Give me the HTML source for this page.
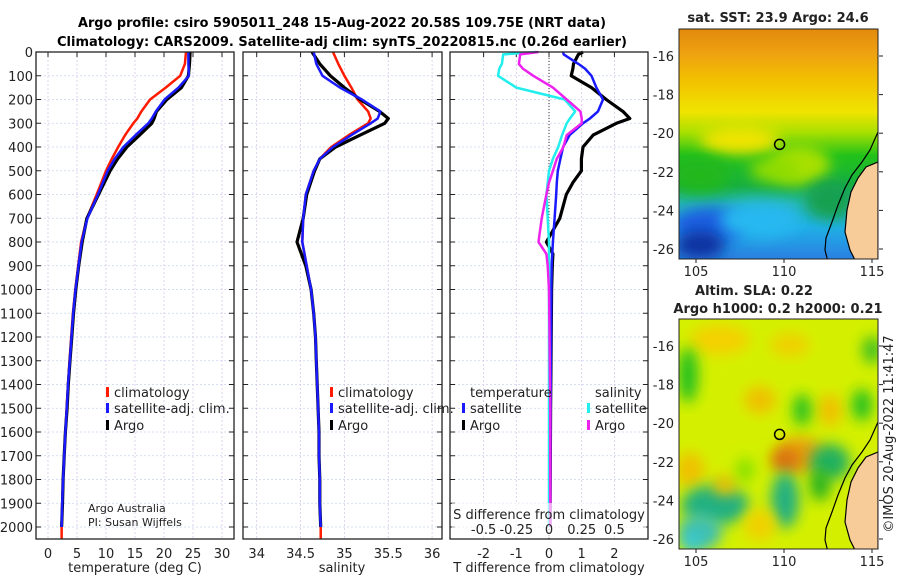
<!DOCTYPE html>
<html><head><meta charset="utf-8">
<style>
html,body{margin:0;padding:0;background:#fff;}
svg{display:block;font-family:"DejaVu Sans","Liberation Sans",sans-serif;}
</style></head>
<body>
<svg id="fig" width="900" height="580" viewBox="0 0 900 580" xmlns="http://www.w3.org/2000/svg">
<defs>
  <clipPath id="clipTop"><rect x="679" y="29" width="199" height="230"/></clipPath>
  <clipPath id="clipBot"><rect x="679" y="319" width="199" height="230"/></clipPath>
  <filter id="blur6" x="-100%" y="-100%" width="300%" height="300%"><feGaussianBlur stdDeviation="7"/></filter>
  <linearGradient id="sstGrad" x1="0" y1="0" x2="0" y2="1">
    <stop offset="0" stop-color="#e38a0c"/>
    <stop offset="0.1" stop-color="#eea012"/>
    <stop offset="0.22" stop-color="#f2c000"/>
    <stop offset="0.36" stop-color="#f0e400"/>
    <stop offset="0.45" stop-color="#a8e000"/>
    <stop offset="0.55" stop-color="#22c21a"/>
    <stop offset="0.68" stop-color="#18b040"/>
    <stop offset="0.76" stop-color="#26b8b0"/>
    <stop offset="0.86" stop-color="#20b0e8"/>
    <stop offset="1" stop-color="#2a80e0"/>
  </linearGradient>
</defs>
<g id="titles">
  <text x="342" y="27" text-anchor="middle" font-size="13" font-weight="bold" textLength="528" lengthAdjust="spacingAndGlyphs">Argo profile: csiro 5905011_248 15-Aug-2022 20.58S 109.75E (NRT data)</text>
  <text x="342" y="46" text-anchor="middle" font-size="13" font-weight="bold" textLength="570" lengthAdjust="spacingAndGlyphs">Climatology: CARS2009. Satellite-adj clim: synTS_20220815.nc (0.26d earlier)</text>
</g>
<g id="plots"></g>
<g id="maps"></g>
<text transform="translate(893,434) rotate(-90)" text-anchor="middle" font-size="13" fill="#222">©IMOS 20-Aug-2022 11:41:47</text>
</svg>
<script>
// ---------- DATA ----------
const depths = [0,50,100,150,200,250,280,300,350,400,450,500,600,700,800,900,1000,1100,1200,1300,1400,1500,1600,1700,1800,1900,2000];
const tempArgo = [24.5,24.4,24.2,23.0,20.5,18.7,18.3,17.9,15.8,13.6,12.0,10.7,8.7,6.7,5.9,5.3,4.8,4.4,4.1,3.8,3.5,3.3,3.0,2.8,2.6,2.5,2.35];
const tempClim = [23.8,23.6,22.8,20.3,17.6,16.1,15.4,14.7,13.3,12.1,11.0,10.0,8.4,6.7,5.7,5.2,4.7,4.3,4.0,3.7,3.45,3.2,3.0,2.8,2.6,2.45,2.35];
const tempSat  = [24.2,24.2,24.3,22.5,20.1,18.6,17.9,17.3,15.1,13.0,11.5,10.3,8.6,6.8,5.8,5.25,4.75,4.35,4.05,3.75,3.45,3.25,3.0,2.8,2.6,2.45,2.35];
const salArgo = [34.63,34.72,34.84,35.0,35.18,35.4,35.5,35.46,35.18,34.9,34.72,34.66,34.57,34.53,34.46,34.56,34.62,34.65,34.67,34.68,34.69,34.7,34.71,34.71,34.72,34.72,34.73];
const salClim = [34.87,34.93,35.0,35.08,35.15,35.27,35.3,35.27,35.05,34.85,34.72,34.65,34.56,34.53,34.52,34.57,34.62,34.65,34.67,34.68,34.69,34.7,34.71,34.71,34.72,34.72,34.73];
const salSat  = [34.65,34.68,34.75,34.95,35.2,35.41,35.38,35.3,35.08,34.87,34.72,34.65,34.56,34.53,34.52,34.57,34.62,34.65,34.67,34.68,34.69,34.7,34.71,34.71,34.72,34.72,34.73];
const diffDepths = [0,10,50,70,100,150,200,250,280,300,350,400,450,500,550,600,700,800,850,900,1000,1500,2000];
const dTArgo = [1.04,0.9,0.75,0.73,0.68,1.3,1.75,2.26,2.47,2.06,1.35,1.04,0.99,0.99,0.73,0.53,0.33,-0.08,0.12,0.1,0.08,0.05,0.03];
const dTSat  = [0.43,0.45,0.9,1.1,1.3,1.45,1.65,1.5,1.25,1.04,0.63,0.43,0.35,0.27,0.24,0.22,0.17,0.12,0.1,0.08,0.07,0.05,0.04];
const dSSat  = [-0.094,-0.35,-0.36,-0.38,-0.39,-0.25,0.12,0.2,0.16,0.135,0.1,0.07,0.03,0,-0.01,-0.02,-0.01,0,0,0,0,0,0];
const dSArgo = [-0.08,-0.22,-0.23,-0.2,-0.12,0.03,0.135,0.24,0.25,0.25,0.135,0.11,0.06,0.03,0.0,-0.02,-0.056,-0.08,-0.02,-0.01,0,0.01,0.01];
const depthTicks = [0,100,200,300,400,500,600,700,800,900,1000,1100,1200,1300,1400,1500,1600,1700,1800,1900,2000];
const tempTicks = [0,5,10,15,20,25,30];
const salTicks = [34,34.5,35,35.5,36];
const dTTicks = [-2,-1,0,1,2];
const dSTicks = [-0.5,-0.25,0,0.25,0.5];
const dSTickLabels = ["-0.5","-0.25","0","0.25","0.5"];
const argoLon = 109.75, argoLat = -20.58;
const lonTicks = [105,110,115];
const latTicks = [-16,-18,-20,-22,-24,-26];

// ---------- helpers ----------
const NS = "http://www.w3.org/2000/svg";
function mk(tag, attrs, parent){ const e=document.createElementNS(NS,tag); for(const k in attrs) e.setAttribute(k,attrs[k]); if(parent) parent.appendChild(e); return e; }
const yTop=52, yBot=539;
const yD = d => yTop + d*0.2375;
const xT = t => 48 + t*5.8;
const xS = s => 256.7 + (s-34)*87.7;
const xDT = d => 549 + d*32.7;
const xDS = s => 549 + s*130.8;
const plots = document.getElementById('plots');

function panel(x0,x1,name){
  const g = mk('g',{},plots);
  
  
  return g;
}
function frame(g,x0,x1){
  const f = mk('rect',{x:x0,y:yTop,width:x1-x0,height:yBot-yTop,fill:'none',stroke:'#222','stroke-width':1.3},g);
  
  
}
function hgrid(g,x0,x1){
  depthTicks.forEach(d=>{
    const y=yD(d);
    const l = mk('line',{x1:x0,x2:x1,y1:y,y2:y,stroke:'#c8d4f0','stroke-width':0.8,'stroke-dasharray':'2,2'},g);
    
    
    mk('line',{x1:x0,x2:x0+5,y1:y,y2:y,stroke:'#222','stroke-width':1},g);
    mk('line',{x1:x1-5,x2:x1,y1:y,y2:y,stroke:'#222','stroke-width':1},g);
  });
}
function vgrid(g,vals,fx,labels,ylab){
  vals.forEach((v,i)=>{
    const x=fx(v);
    const l = mk('line',{x1:x,x2:x,y1:yTop,y2:yBot,stroke:'#d8c8e8','stroke-width':0.8,'stroke-dasharray':'2,2'},g);
    
    
    mk('line',{x1:x,x2:x,y1:yTop,y2:yTop+5,stroke:'#222','stroke-width':1},g);
    const t = mk('text',{x:x,y:ylab,'text-anchor':'middle','font-size':13,fill:'#222'},g);
    t.textContent = labels ? labels[i] : String(v);
    
    
  });
}
function line(g,ds,vals,fx,color,w,name){
  const pts = ds.map((d,i)=>fx(vals[i]).toFixed(1)+','+yD(d).toFixed(1)).join(' ');
  const p = mk('polyline',{points:pts,fill:'none',stroke:color,'stroke-width':w,'stroke-linejoin':'round'},g);
  
  
}
function txt(g,x,y,s,name,opts){
  const t = mk('text',Object.assign({x:x,y:y,'font-size':13,fill:'#222'},opts||{}),g);
  t.textContent = s;
  
  
  return t;
}
function legendEntry(g,x,y,color,label){
  const m = mk('rect',{x:x,y:y-10,width:3,height:10,fill:color},g);
  
  
  txt(g,x+8,y,label,'legend-entry');
}

// ---------- Panel 1: temperature ----------
const g1 = panel(36,234,'temperature-panel');
hgrid(g1,36,234);
vgrid(g1,tempTicks,xT,null,558);
depthTicks.forEach(d=>{ txt(g1,33,yD(d)+5,String(d),'y-tick-label',{'text-anchor':'end'}); });
line(g1,depths,tempClim,xT,'#ff1a00',2.5,'temp-climatology-line');
mk('line',{x1:xT(2.35),x2:xT(2.35),y1:yD(2000),y2:yBot,stroke:'#ff1a00','stroke-width':2.5},g1);
line(g1,depths,tempArgo,xT,'#000',3.2,'temp-argo-line');
line(g1,depths,tempSat,xT,'#1a1aff',2.5,'temp-satellite-line');
frame(g1,36,234);
legendEntry(g1,106,397,'#ff1a00','climatology');
legendEntry(g1,106,413,'#1a1aff','satellite-adj. clim.');
legendEntry(g1,106,430,'#000','Argo');
txt(g1,88,512,'Argo Australia','credit-text',{'font-size':11});
txt(g1,88,526,'PI: Susan Wijffels','credit-text',{'font-size':11});
txt(g1,135,572,'temperature (deg C)','x-axis-title',{'text-anchor':'middle'});

// ---------- Panel 2: salinity ----------
const g2 = panel(243,442,'salinity-panel');
hgrid(g2,243,442);
vgrid(g2,salTicks,xS,null,558);
line(g2,depths,salClim,xS,'#ff1a00',2.5,'sal-climatology-line');
mk('line',{x1:xS(34.73),x2:xS(34.73),y1:yD(2000),y2:yBot,stroke:'#ff1a00','stroke-width':2.5},g2);
line(g2,depths,salArgo,xS,'#000',3.2,'sal-argo-line');
line(g2,depths,salSat,xS,'#1a1aff',2.5,'sal-satellite-line');
frame(g2,243,442);
legendEntry(g2,330,397,'#ff1a00','climatology');
legendEntry(g2,330,413,'#1a1aff','satellite-adj. clim.');
legendEntry(g2,330,430,'#000','Argo');
txt(g2,342,572,'salinity','x-axis-title',{'text-anchor':'middle'});

// ---------- Panel 3: differences ----------
const g3 = panel(450,648,'difference-panel');
hgrid(g3,450,648);
vgrid(g3,dTTicks,xDT,null,558);
const zl = mk('line',{x1:xDT(0),x2:xDT(0),y1:yTop,y2:yBot,stroke:'#333','stroke-width':1,'stroke-dasharray':'1,2'},g3);


line(g3,diffDepths,dTArgo,xDT,'#000',3.2,'dT-argo-line');
line(g3,diffDepths,dTSat,xDT,'#1a1aff',2.5,'dT-satellite-line');
line(g3,diffDepths,dSSat,xDS,'#22eeee',2.5,'dS-satellite-line');
line(g3,diffDepths,dSArgo,xDS,'#ee22ee',2.5,'dS-argo-line');
frame(g3,450,648);
mk('rect',{x:452,y:503,width:194,height:34,fill:'#fff','fill-opacity':0.6},g3);
txt(g3,549,519,'S difference from climatology','s-axis-title',{'text-anchor':'middle'});
dSTicks.forEach((v,i)=>{ txt(g3,xDS(v),534,dSTickLabels[i],'s-tick-label',{'text-anchor':'middle'}); });
txt(g3,470,397,'temperature','legend-title');
legendEntry(g3,462,413,'#1a1aff','satellite');
legendEntry(g3,462,430,'#000','Argo');
txt(g3,595,397,'salinity','legend-title');
legendEntry(g3,587,413,'#22eeee','satellite');
legendEntry(g3,587,430,'#ee22ee','Argo');
txt(g3,549,572,'T difference from climatology','x-axis-title',{'text-anchor':'middle'});

// ---------- Maps ----------
const maps = document.getElementById('maps');
function mapAxes(g,y0,y1,latAt16,latPx){
  const lonX = lon => 696 + (lon-105)*17.6;
  const latY = lat => latAt16 + (-16-lat)*latPx;
  lonTicks.forEach(l=>{ txt(g,lonX(l),y1+17,String(l),'map-lon-label',{'text-anchor':'middle'}); mk('line',{x1:lonX(l),x2:lonX(l),y1:y1,y2:y1+4,stroke:'#222'},g); });
  latTicks.forEach(l=>{ txt(g,674,latY(l)+5,String(l),'map-lat-label',{'text-anchor':'end'}); mk('line',{x1:879,x2:883,y1:latY(l),y2:latY(l),stroke:'#222'},g); });
  return {lonX,latY};
}
function coast(g,clip,yOff){
  const land = mk('polygon',{points:[[878,162],[866,167],[858,178],[851,192],[847,210],[845,232],[850,250],[856,262],[878,262]].map(p=>p[0]+','+(p[1]+yOff)).join(' '),fill:'#f8cc98',stroke:'#000','stroke-width':1.2,'clip-path':clip},g);
  
  
  mk('polyline',{points:[[878,132],[870,150],[862,162],[852,175],[845,188],[838,205],[832,222],[826,238],[825,250],[828,262]].map(p=>p[0]+','+(p[1]+yOff)).join(' '),fill:'none',stroke:'#000','stroke-width':1.2,'clip-path':clip},g);
}
// top map (SST)
const gm1 = mk('g',{},maps);


txt(gm1,778,22,'sat. SST: 23.9 Argo: 24.6','sst-map-title',{'text-anchor':'middle','font-weight':'bold'});
const c1 = mk('g',{'clip-path':'url(#clipTop)'},gm1);
mk('rect',{x:679,y:29,width:199,height:230,fill:'url(#sstGrad)'},c1);
const blobs1 = [[740,140,40,14,'#f0e400'],[800,165,30,20,'#a8e000'],[700,175,30,18,'#22b81a'],[710,225,38,18,'#1a5ee0'],[700,245,25,14,'#0a30a0'],[760,220,40,18,'#28b8f0'],[830,200,25,20,'#18a050'],[775,170,25,12,'#8fdc00']];
blobs1.forEach(b=>mk('ellipse',{cx:b[0],cy:b[1],rx:b[2],ry:b[3],fill:b[4],filter:'url(#blur6)'},c1));
coast(gm1,'url(#clipTop)',0);
const a1 = mapAxes(gm1,29,259,56,19.3);
mk('rect',{x:679,y:29,width:199,height:230,fill:'none',stroke:'#222','stroke-width':1},gm1);
const m1 = mk('circle',{cx:a1.lonX(argoLon),cy:a1.latY(argoLat),r:5,fill:'none',stroke:'#000','stroke-width':1.5},gm1);


// bottom map (SLA)
const gm2 = mk('g',{},maps);


txt(gm2,754,295,'Altim. SLA: 0.22','sla-map-title',{'text-anchor':'middle','font-weight':'bold'});
txt(gm2,778,313,'Argo h1000: 0.2 h2000: 0.21','sla-map-subtitle',{'text-anchor':'middle','font-weight':'bold'});
const c2 = mk('g',{'clip-path':'url(#clipBot)'},gm2);
mk('rect',{x:679,y:319,width:199,height:230,fill:'#d4f000'},c2);
const blobs2 = [[720,340,30,15,'#f4d000'],[790,345,20,12,'#f0d000'],[688,375,10,28,'#22c020'],[760,400,16,14,'#f0c000'],[690,470,14,18,'#f0c000'],[800,455,24,18,'#e8a010'],[785,460,14,12,'#d87010'],[830,410,12,16,'#f0c000'],[802,410,9,16,'#22c020'],[862,405,10,16,'#22c020'],[830,462,20,18,'#20b060'],[785,500,14,28,'#20b080'],[715,505,34,20,'#20b080'],[700,532,22,18,'#40c0b0'],[692,542,10,8,'#30c8e0'],[725,485,12,10,'#f0c000'],[745,470,9,12,'#80e000'],[760,525,16,16,'#f0d000'],[872,350,10,14,'#40c020'],[820,485,10,16,'#22b020']];
blobs2.forEach(b=>mk('ellipse',{cx:b[0],cy:b[1],rx:b[2],ry:b[3],fill:b[4],filter:'url(#blur6)'},c2));
coast(gm2,'url(#clipBot)',290);
const a2 = mapAxes(gm2,319,549,346,19.3);
mk('rect',{x:679,y:319,width:199,height:230,fill:'none',stroke:'#222','stroke-width':1},gm2);
const m2 = mk('circle',{cx:a2.lonX(argoLon),cy:a2.latY(argoLat),r:5,fill:'none',stroke:'#000','stroke-width':1.5},gm2);


</script>
</body></html>
